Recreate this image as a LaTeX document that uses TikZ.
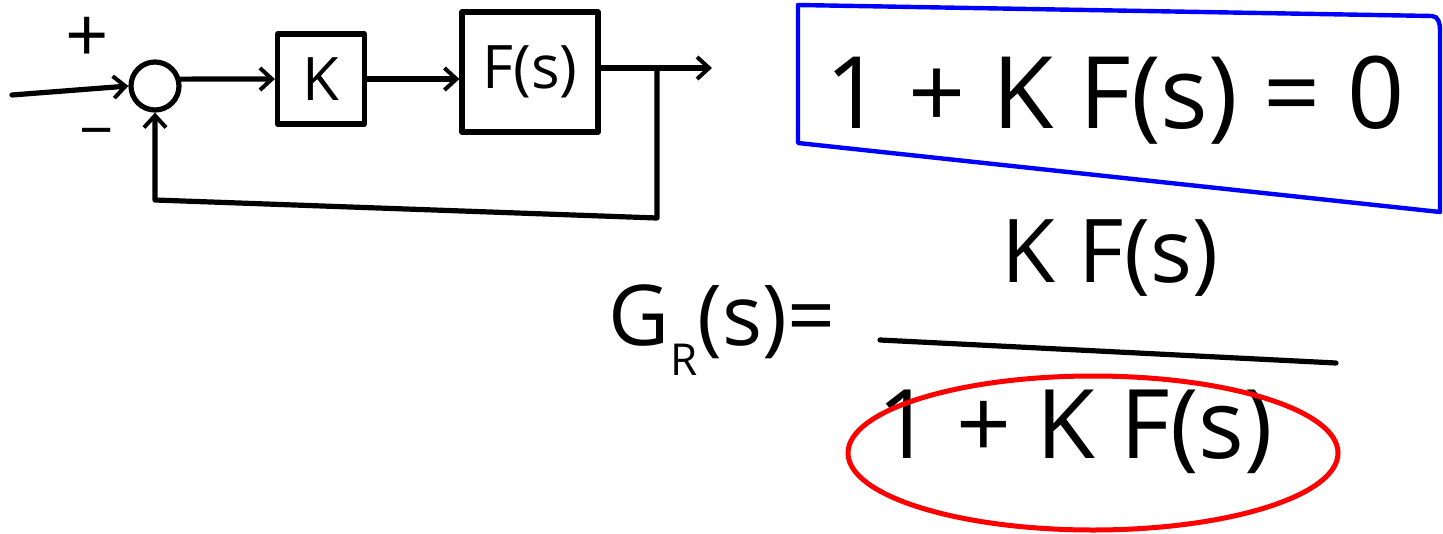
\documentclass[tikz,border=0pt]{standalone}
\usepackage{fontspec}
\setmainfont{Open Sans}
\usetikzlibrary{arrows.meta}
\begin{document}
\begin{tikzpicture}[x=0.5pt,y=-0.5pt,
  ink/.style={line width=2.6pt, line cap=round, line join=round},
  arr/.style={ink, -{Straight Barb[length=6pt,width=11pt,line width=2pt]}},
  blockbox/.style={ink, draw, inner sep=0pt},
  fs/.style={font=\fontsize{#1}{#1}\selectfont}]
\useasboundingbox (0,0) rectangle (1443,534);
% block diagram
\node[ink, draw, circle, minimum size=24pt, inner sep=0pt] (sum) at (155,86) {};
\node[blockbox, minimum width=43.5pt, minimum height=45pt, fs=30] (K) at (321,79) {K};
\node[blockbox, minimum width=68pt, minimum height=60pt, fs=30] (F) at (530,72) {F(s)};
\node[fs=38] (plus) at (87,40) {+};
\node[fs=30] (minus) at (97,140) {−};
\coordinate (in) at (12,95);
\coordinate (out) at (712,68);
\coordinate (br) at (657,68);
\coordinate (bl) at (657,218);
\coordinate (bll) at (155,200);
\draw[arr] (in) -- (sum.west);
\draw[arr] (sum.15) -- (K.west);
\draw[arr] (K.east) -- (F.west |- K.east);
\draw[arr] (F.east |- out) -- (out);
\draw[arr] (br) -- (bl) -- (bll) -- (sum.south);
% characteristic equation
\draw[blue, line width=2.2pt, line join=round, line cap=round] (798,5) -- (1432,16) to[out=0,in=90] (1440,30) -- (1440,212) -- (798,143) -- cycle;
\node[fs=50] (eq) at (1115,100) {1 + K F(s) = 0};
% closed loop transfer function
\node[fs=44] (num) at (1110,258) {K F(s)};
\node[fs=42] (G) at (722,330) {G\raisebox{-0.35em}{\fontsize{22}{22}\selectfont R}(s)=};
\draw[ink] (880,340) -- (1336,363);
\node[fs=48] (den) at (1075,432) {1 + K F(s)};
\draw[red, line width=2.5pt] (1093,453) ellipse [x radius=245, y radius=77];
\end{tikzpicture}
\end{document}
